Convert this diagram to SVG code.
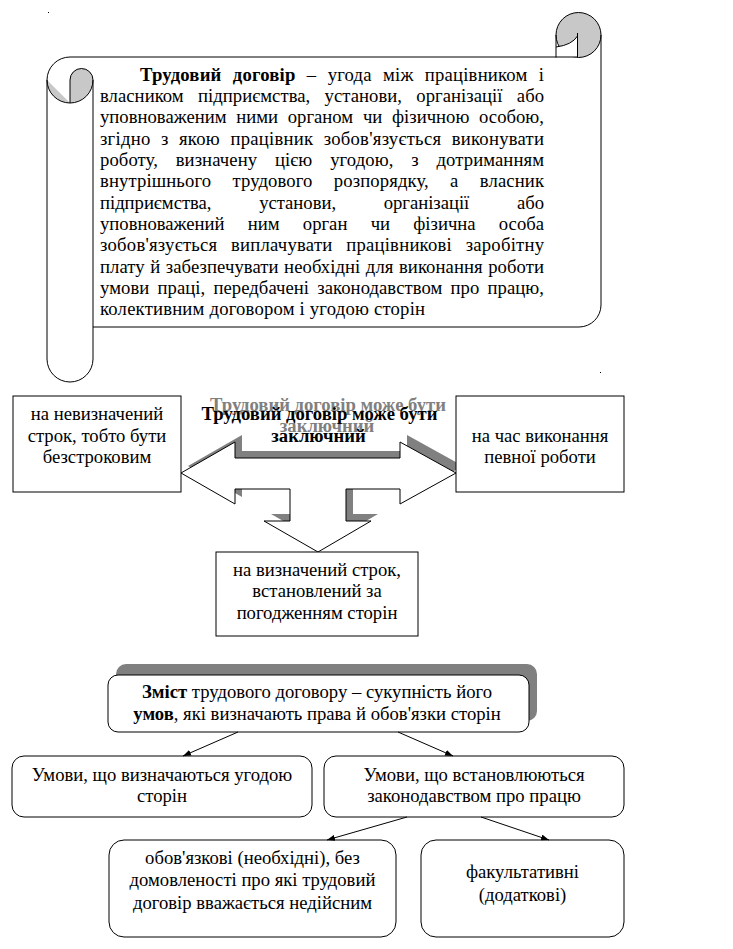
<svg xmlns="http://www.w3.org/2000/svg" width="733" height="949" viewBox="0 0 733 949">
<style>
text{font-family:"Liberation Serif","Times New Roman",serif;font-size:18.67px;fill:#000}
.c{text-anchor:middle}
.b{font-weight:bold}
.sh{fill:#808080}
.ln{fill:none;stroke:#000;stroke-width:1}
.box{fill:#fff;stroke:#000;stroke-width:1}
.conn{stroke:#000;stroke-width:1;fill:none;marker-end:url(#ah)}
</style>
<defs>
<marker id="ah" markerUnits="userSpaceOnUse" markerWidth="8" markerHeight="6" refX="8" refY="3" orient="auto">
<path d="M0,0 L8,3 L0,6 Z" fill="#000"/>
</marker>
</defs>
<rect width="733" height="949" fill="#fff"/>
<rect x="48" y="12" width="1" height="1" fill="#000"/>
<rect x="600" y="372" width="1" height="1" fill="#000"/>

<g id="scroll">
<path d="M47,80 A23,23 0 0 1 70,57 L601,57 L601,305 A22,22 0 0 1 579,327 L93,327 L93,359 A23,23 0 0 1 47,359 Z" fill="#fff"/>
<circle cx="578.5" cy="35" r="22.5" fill="#c8c8c8" stroke="#000"/>
<path d="M556,35 L556,57.5 L577.5,57.5 L577.5,36 Q572,45 556,47 Z" fill="#fff"/>
<path class="ln" d="M556,35 L556,57.5 M577.5,33 L577.5,57.5 M556,47 Q572,45 577.5,36"/>
<path class="ln" d="M70,57 L577.5,57 M601,35 L601,305 A22,22 0 0 1 579,327 L93,327"/>
<path class="ln" d="M47,80 A23,23 0 0 1 70,57"/>
<path d="M47,80 A23,23 0 0 0 70,103 Z" fill="#c8c8c8"/>
<path d="M70,80 A11.5,11.5 0 0 1 93,80 A23,23 0 0 1 70,103 Z" fill="#c8c8c8" stroke="#000"/>
<path class="ln" d="M47,80 A23,23 0 0 0 70,103"/>
<path class="ln" d="M47,80 L47,359 A23,23 0 0 0 93,359 L93,80"/>
<text x="140" y="80.5" textLength="404" lengthAdjust="spacing" word-spacing="6.4"><tspan class="b">Трудовий договір</tspan> – угода між працівником і</text>
<text x="100" y="101.9" textLength="444" lengthAdjust="spacing" word-spacing="9.6">власником підприємства, установи, організації або</text>
<text x="100" y="123.2" textLength="444" lengthAdjust="spacing" word-spacing="5">уповноваженим ними органом чи фізичною особою,</text>
<text x="100" y="144.6" textLength="444" lengthAdjust="spacing" word-spacing="5.5">згідно з якою працівник зобов'язується виконувати</text>
<text x="100" y="165.9" textLength="444" lengthAdjust="spacing" word-spacing="13">роботу, визначену цією угодою, з дотриманням</text>
<text x="100" y="187.3" textLength="444" lengthAdjust="spacing" word-spacing="16.5">внутрішнього трудового розпорядку, а власник</text>
<text x="100" y="208.6" textLength="444" lengthAdjust="spacing" word-spacing="43">підприємства, установи, організації або</text>
<text x="100" y="230" textLength="444" lengthAdjust="spacing" word-spacing="18.6">уповноважений ним орган чи фізична особа</text>
<text x="100" y="251.3" textLength="444" lengthAdjust="spacing" word-spacing="8.7">зобов'язується виплачувати працівникові заробітну</text>
<text x="100" y="272.7" textLength="444" lengthAdjust="spacing" word-spacing="0.7">плату й забезпечувати необхідні для виконання роботи</text>
<text x="100" y="294" textLength="444" lengthAdjust="spacing" word-spacing="3.5">умови праці, передбачені законодавством про працю,</text>
<text x="100" y="315.4" textLength="325" lengthAdjust="spacing">колективним договором і угодою сторін</text>
</g>

<g id="arrow3">
<path class="sh" transform="translate(7,-7)" d="M181,473 L235,442 L235,458 L400,458 L400,442 L456,473 L400,504 L400,489 L346,489 L346,521 L371,521 L318,552 L264,521 L290,521 L290,489 L235,489 L235,504 Z"/>
<path class="box" d="M181,473 L235,442 L235,458 L400,458 L400,442 L456,473 L400,504 L400,489 L346,489 L346,521 L371,521 L318,552 L264,521 L290,521 L290,489 L235,489 L235,504 Z"/>
<text class="c b" x="328" y="410.5" fill="#808080" style="fill:#808080">Трудовий договір може бути</text>
<text class="c b" x="327" y="432" style="fill:#808080">заключний</text>
<text class="c b" x="319.5" y="420">Трудовий договір може бути</text>
<text class="c b" x="318.5" y="441.5">заключний</text>
</g>

<g id="box-left">
<rect class="box" x="13" y="396" width="168" height="96"/>
<text class="c" x="97" y="420">на невизначений</text>
<text class="c" x="97" y="441.5">строк, тобто бути</text>
<text class="c" x="97" y="463">безстроковим</text>
</g>
<g id="box-right">
<rect class="box" x="456" y="396" width="168" height="96"/>
<text class="c" x="540" y="441.5">на час виконання</text>
<text class="c" x="540" y="463">певної роботи</text>
</g>
<g id="box-bottom">
<rect class="box" x="216" y="552" width="202" height="84"/>
<text class="c" x="317" y="575.5">на визначений строк,</text>
<text class="c" x="317" y="597">встановлений за</text>
<text class="c" x="317" y="618.5">погодженням сторін</text>
</g>

<g id="zmist">
<rect class="sh" x="116" y="664" width="421" height="57" rx="10"/>
<rect class="box" x="108" y="675" width="421" height="57" rx="10"/>
<text class="c" x="317" y="697.5"><tspan class="b">Зміст</tspan> трудового договору – сукупність його</text>
<text class="c" x="317" y="720"><tspan class="b">умов</tspan>, які визначають права й обов'язки сторін</text>
</g>

<g id="umovy-ugoda">
<rect class="box" x="12" y="756" width="300" height="61" rx="12"/>
<text class="c" x="162" y="780.5">Умови, що визначаються угодою</text>
<text class="c" x="162" y="802">сторін</text>
</g>
<g id="umovy-zakon">
<rect class="box" x="324" y="756" width="300" height="61" rx="12"/>
<text class="c" x="474" y="780.5">Умови, що встановлюються</text>
<text class="c" x="474" y="802">законодавством про працю</text>
</g>
<g id="oboviazkovi">
<rect class="box" x="109" y="840" width="287" height="97" rx="15"/>
<text class="c" x="252.5" y="864">обов'язкові (необхідні), без</text>
<text class="c" x="252.5" y="886">домовленості про які трудовий</text>
<text class="c" x="252.5" y="908.5">договір вважається недійсним</text>
</g>
<g id="fakultatyvni">
<rect class="box" x="421" y="840" width="203" height="97" rx="15"/>
<text class="c" x="522.5" y="878">факультативні</text>
<text class="c" x="522.5" y="901">(додаткові)</text>
</g>

<g id="connectors">
<line class="conn" x1="238" y1="732" x2="183" y2="756"/>
<line class="conn" x1="398" y1="732" x2="453" y2="756"/>
<line class="conn" x1="407" y1="817" x2="327" y2="840"/>
<line class="conn" x1="481" y1="817" x2="549" y2="840"/>
</g>
</svg>
